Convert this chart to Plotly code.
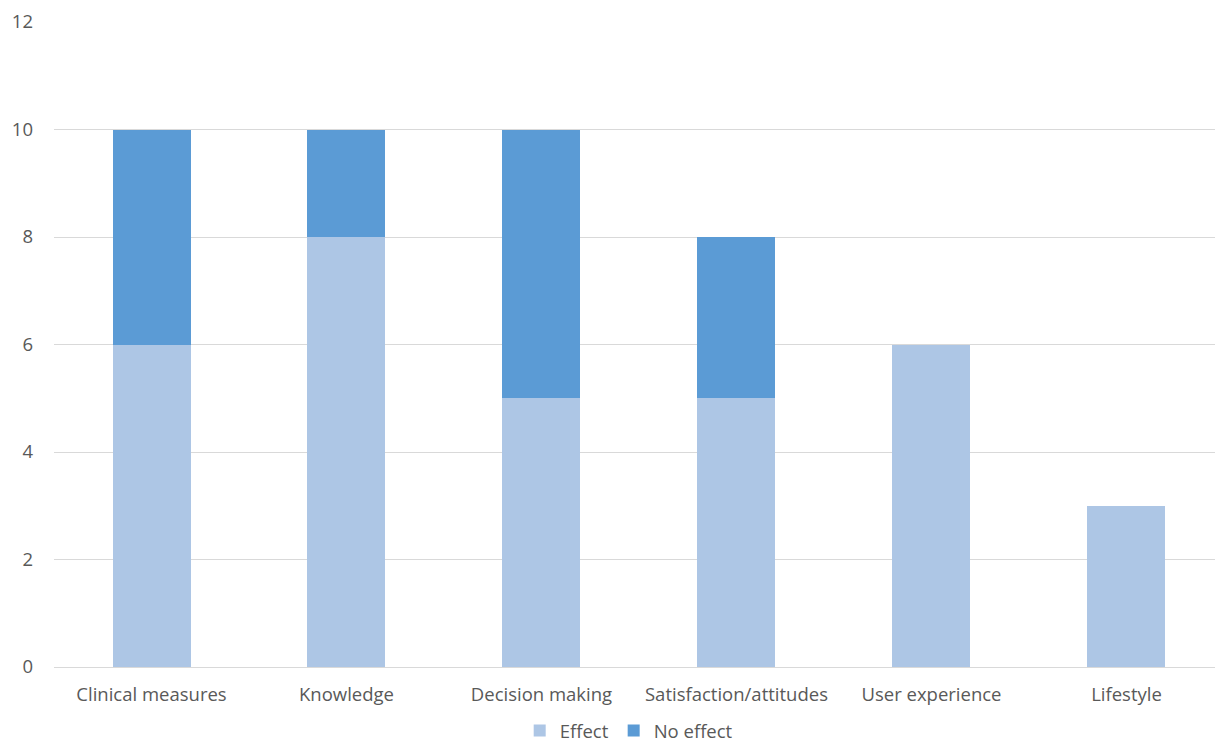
import plotly.graph_objects as go

categories = ["Clinical measures", "Knowledge", "Decision making",
              "Satisfaction/attitudes", "User experience", "Lifestyle"]
effect = [6, 8, 5, 5, 6, 3]
no_effect = [4, 2, 5, 3, 0, 0]
y_ticks = [0, 2, 4, 6, 8, 10, 12]

font_family = "Open Sans, Noto Sans, sans-serif"
text_color = "#595959"

fig = go.Figure()
fig.add_trace(go.Bar(x=categories, y=effect, name="Effect",
                     marker=dict(color="#ADC6E5", line=dict(width=0))))
fig.add_trace(go.Bar(x=categories, y=no_effect, name="No effect",
                     marker=dict(color="#5B9BD5", line=dict(width=0))))

fig.update_layout(
    barmode="stack",
    bargap=0.6,
    width=1215, height=742,
    margin=dict(l=54, r=0, t=22, b=75, autoexpand=False),
    plot_bgcolor="white", paper_bgcolor="white",
    font=dict(family=font_family, size=18.5, color=text_color),
    legend=dict(orientation="h", x=0.495, xanchor="center", y=-0.1287, yanchor="bottom",
                font=dict(size=18.5, color=text_color), itemwidth=30,
                traceorder="normal"),
    xaxis=dict(range=[-0.5, 5.454], showgrid=False, showline=False, ticks="",
               tickfont=dict(size=18.5), ticklabelstandoff=14),
    yaxis=dict(range=[0, 12], tickvals=y_ticks, showgrid=True, gridcolor="#D9D9D9",
               gridwidth=1, zeroline=True, zerolinecolor="#D9D9D9", zerolinewidth=1,
               showline=False, ticks="", tickfont=dict(size=18.5), ticklabelstandoff=20),
)

fig.write_html("out.html")
